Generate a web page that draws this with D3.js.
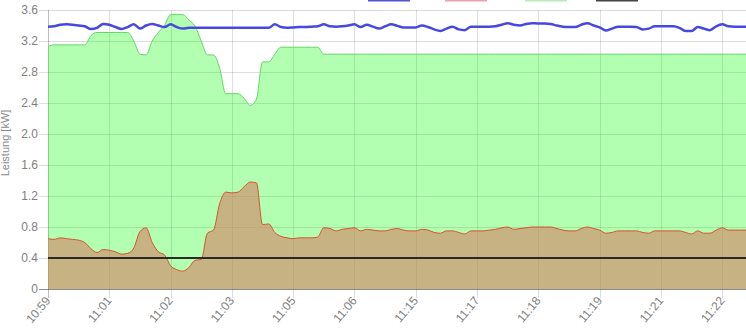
<!DOCTYPE html>
<html>
<head>
<meta charset="utf-8">
<script src="https://cdn.jsdelivr.net/npm/d3@7"></script>
<style>
  body { margin: 0; background: #fff; }
  svg { display: block; }
  text { font-family: "Liberation Sans", Arial, Helvetica, sans-serif; }
</style>
</head>
<body>
<div id="chart"></div>
<script>
// tick labels shown on the x axis (one every 10 samples)
const tickLabels = ["10:59", "11:01", "11:02", "11:03", "11:05", "11:06",
                    "11:15", "11:17", "11:18", "11:19", "11:21", "11:22"];
const tickEvery = 10;
const yTicks = [0, 0.4, 0.8, 1.2, 1.6, 2.0, 2.4, 2.8, 3.2, 3.6];

// blue line
const blueSeries = [
  3.385, 3.39, 3.41, 3.415, 3.41, 3.40, 3.39, 3.355, 3.37, 3.42,
  3.41, 3.38, 3.355, 3.38, 3.415, 3.36, 3.40, 3.42, 3.40, 3.38,
  3.415, 3.38, 3.36, 3.37, 3.37, 3.37, 3.37, 3.37, 3.37, 3.37,
  3.37, 3.37, 3.37, 3.37, 3.37, 3.37, 3.37, 3.415, 3.38, 3.37,
  3.375, 3.38, 3.38, 3.385, 3.39, 3.415, 3.39, 3.385, 3.39, 3.40,
  3.415, 3.38, 3.41, 3.385, 3.36, 3.39, 3.415, 3.395, 3.375, 3.375,
  3.375, 3.40, 3.38, 3.35, 3.33, 3.36, 3.385, 3.35, 3.34, 3.385,
  3.385, 3.385, 3.385, 3.39, 3.41, 3.43, 3.41, 3.40, 3.42, 3.43,
  3.425, 3.425, 3.42, 3.40, 3.385, 3.38, 3.38, 3.41, 3.43, 3.40,
  3.375, 3.335, 3.36, 3.385, 3.385, 3.385, 3.38, 3.35, 3.36, 3.39,
  3.39, 3.39, 3.39, 3.37, 3.33, 3.33, 3.38, 3.36, 3.34, 3.39,
  3.415, 3.39, 3.385, 3.385, 3.385
];

// red line with brown fill
const redSeries = [
  0.65, 0.64, 0.66, 0.65, 0.64, 0.63, 0.60, 0.52, 0.47, 0.51,
  0.50, 0.48, 0.45, 0.46, 0.53, 0.74, 0.79, 0.60, 0.48, 0.44,
  0.30, 0.25, 0.23, 0.28, 0.37, 0.38, 0.72, 0.76, 1.10, 1.25,
  1.24, 1.25, 1.32, 1.38, 1.37, 0.83, 0.84, 0.73, 0.68, 0.66,
  0.65, 0.66, 0.66, 0.66, 0.67, 0.79, 0.78, 0.75, 0.77, 0.78,
  0.79, 0.75, 0.77, 0.76, 0.75, 0.75, 0.77, 0.78, 0.76, 0.75,
  0.75, 0.77, 0.76, 0.73, 0.72, 0.75, 0.75, 0.73, 0.71, 0.75,
  0.75, 0.75, 0.76, 0.77, 0.79, 0.80, 0.77, 0.78, 0.79, 0.80,
  0.80, 0.80, 0.80, 0.78, 0.76, 0.75, 0.75, 0.78, 0.80, 0.78,
  0.76, 0.72, 0.73, 0.75, 0.75, 0.75, 0.75, 0.73, 0.72, 0.75,
  0.75, 0.75, 0.75, 0.75, 0.73, 0.71, 0.75, 0.72, 0.72, 0.76,
  0.79, 0.76, 0.76, 0.76, 0.76
];

// green area
const greenSeries = [
  3.13, 3.15, 3.15, 3.15, 3.15, 3.15, 3.15, 3.27, 3.31, 3.31,
  3.31, 3.31, 3.31, 3.31, 3.20, 3.03, 3.02, 3.20, 3.31, 3.40,
  3.54, 3.54, 3.54, 3.47, 3.39, 3.20, 3.02, 3.02, 2.85, 2.52,
  2.52, 2.52, 2.46, 2.37, 2.45, 2.93, 2.93, 3.03, 3.12, 3.12,
  3.12, 3.12, 3.12, 3.12, 3.12, 3.03, 3.03, 3.03, 3.03, 3.03,
  3.03, 3.03, 3.03, 3.03, 3.03, 3.03, 3.03, 3.03, 3.03, 3.03,
  3.03, 3.03, 3.03, 3.03, 3.03, 3.03, 3.03, 3.03, 3.03, 3.03,
  3.03, 3.03, 3.03, 3.03, 3.03, 3.03, 3.03, 3.03, 3.03, 3.03,
  3.03, 3.03, 3.03, 3.03, 3.03, 3.03, 3.03, 3.03, 3.03, 3.03,
  3.03, 3.03, 3.03, 3.03, 3.03, 3.03, 3.03, 3.03, 3.03, 3.03,
  3.03, 3.03, 3.03, 3.03, 3.03, 3.03, 3.03, 3.03, 3.03, 3.03,
  3.03, 3.03, 3.03, 3.03, 3.03
];

// black limit line
const limitValue = 0.4;

const width = 746, height = 335;
const margin = { top: 10, left: 48, bottom: 46 };
const plotRight = 746.8;
const plotBottom = height - margin.bottom; // 289

const svg = d3.select("#chart").append("svg")
  .attr("width", width)
  .attr("height", height);

const x = d3.scaleLinear()
  .domain([0, blueSeries.length - 1])
  .range([margin.left, plotRight]);

const y = d3.scaleLinear()
  .domain([0, 3.6])
  .range([plotBottom, margin.top]);

// legend boxes, mostly above the visible area
const legendColors = ["#5252d4", "#eba3ab", "#b8ebb8", "#454545"];
const legendX = [368, 445, 525, 596];
svg.append("g").selectAll("rect")
  .data(legendColors)
  .join("rect")
  .attr("x", (d, i) => legendX[i])
  .attr("y", -12)
  .attr("width", 42)
  .attr("height", 13.5)
  .attr("fill", d => d);

// grid lines
const xTickIdx = tickLabels.map((d, i) => i * tickEvery);
const grid = svg.append("g");
grid.selectAll("line.h")
  .data(yTicks)
  .join("line")
  .attr("class", "h")
  .attr("x1", margin.left - 9).attr("x2", plotRight)
  .attr("y1", d => Math.round(y(d)) + 0.5).attr("y2", d => Math.round(y(d)) + 0.5)
  .attr("stroke", d => d === 0 ? "rgba(0,0,0,0.45)" : "rgba(0,0,0,0.13)");
grid.selectAll("line.v")
  .data(xTickIdx)
  .join("line")
  .attr("class", "v")
  .attr("x1", d => Math.round(x(d)) + 0.5).attr("x2", d => Math.round(x(d)) + 0.5)
  .attr("y1", margin.top).attr("y2", plotBottom + 9)
  .attr("stroke", (d, i) => i === 0 ? "rgba(0,0,0,0.25)" : "rgba(0,0,0,0.13)");

const area = d3.area()
  .x((d, i) => x(i))
  .y0(y(0))
  .y1(d => y(d))
  .curve(d3.curveMonotoneX);
const line = d3.line()
  .x((d, i) => x(i))
  .y(d => y(d))
  .curve(d3.curveMonotoneX);

// green area
svg.append("path")
  .datum(greenSeries)
  .attr("d", area)
  .attr("fill", "rgba(0,255,0,0.3)");
svg.append("path")
  .datum(greenSeries)
  .attr("d", line)
  .attr("fill", "none")
  .attr("stroke", "#62d662")
  .attr("stroke-width", 1);

// red area
svg.append("path")
  .datum(redSeries)
  .attr("d", area)
  .attr("fill", "rgba(214,127,101,0.6)");
svg.append("path")
  .datum(redSeries)
  .attr("d", line)
  .attr("fill", "none")
  .attr("stroke", "#d8512c")
  .attr("stroke-width", 1);

// limit line
svg.append("line")
  .attr("x1", x(0)).attr("x2", x(blueSeries.length - 1))
  .attr("y1", y(limitValue)).attr("y2", y(limitValue))
  .attr("stroke", "#2a2a2a")
  .attr("stroke-width", 2);

// blue line
svg.append("path")
  .datum(blueSeries)
  .attr("d", line)
  .attr("fill", "none")
  .attr("stroke", "#4848e0")
  .attr("stroke-width", 2.5);

// y tick labels
svg.append("g").selectAll("text")
  .data(yTicks)
  .join("text")
  .attr("x", 38)
  .attr("y", d => y(d))
  .attr("dy", "0.35em")
  .attr("text-anchor", "end")
  .attr("font-size", 12)
  .attr("fill", "#808080")
  .text(d => d === 0 ? "0" : d3.format(".1f")(d));

// y axis title
svg.append("text")
  .attr("transform", "translate(5,143) rotate(-90)")
  .attr("text-anchor", "middle")
  .attr("dy", "0.35em")
  .attr("font-size", 11)
  .attr("fill", "#8a8a8a")
  .text("Leistung [kW]");

// x tick labels
svg.append("g").selectAll("text")
  .data(xTickIdx)
  .join("text")
  .attr("transform", d => `translate(${x(d) + 3},${plotBottom + 12}) rotate(-50)`)
  .attr("text-anchor", "end")
  .attr("font-size", 12)
  .attr("fill", "#808080")
  .text((d, i) => tickLabels[i]);
</script>
</body>
</html>
